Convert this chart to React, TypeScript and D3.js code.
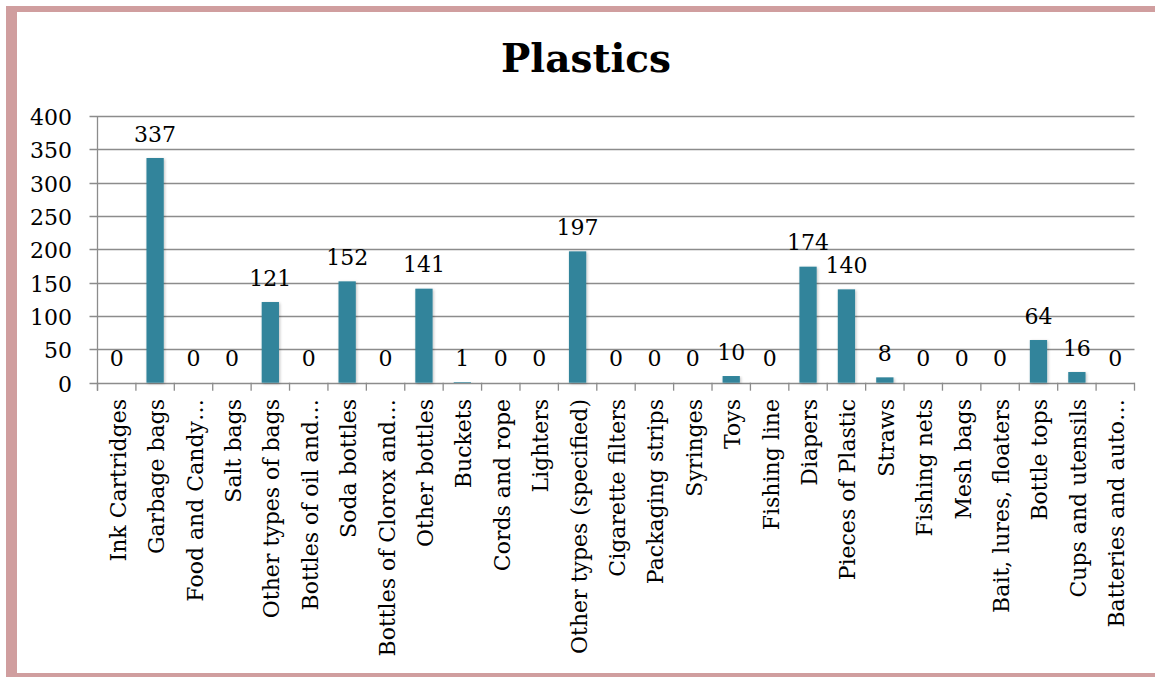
import React from "react";
import * as d3 from "d3";

const categories = [
  "Ink Cartridges",
  "Garbage bags",
  "Food and Candy…",
  "Salt bags",
  "Other types of bags",
  "Bottles of oil and…",
  "Soda bottles",
  "Bottles of Clorox and…",
  "Other bottles",
  "Buckets",
  "Cords and rope",
  "Lighters",
  "Other types (specified)",
  "Cigarette filters",
  "Packaging strips",
  "Syringes",
  "Toys",
  "Fishing line",
  "Diapers",
  "Pieces of Plastic",
  "Straws",
  "Fishing nets",
  "Mesh bags",
  "Bait, lures, floaters",
  "Bottle tops",
  "Cups and utensils",
  "Batteries and auto…",
];

const values = [
  0, 337, 0, 0, 121, 0, 152, 0, 141, 1, 0, 0, 197, 0, 0, 0, 10, 0, 174, 140, 8,
  0, 0, 0, 64, 16, 0,
];

const yTicks = [0, 50, 100, 150, 200, 250, 300, 350, 400];

const title = "Plastics";

const W = 1155;
const H = 677;
const FONT = "'DejaVu Serif', serif";
const BAR = "#31849b";
const GRID = "#8c8c8c";
const BORDER = "#d09e9f";

export default function App() {
  const left = 97.5;
  const right = 1134.5;
  const top = 116;
  const bottom = 382.7;

  const x = d3
    .scaleBand<string>()
    .domain(categories)
    .range([left, right])
    .paddingInner(0)
    .paddingOuter(0);
  const y = d3.scaleLinear().domain([0, 400]).range([bottom, top]);
  const bw = x.bandwidth() * 0.45;

  return (
    <svg
      width={W}
      height={H}
      style={{ position: "absolute", left: 0, top: 0, background: "#fff" }}
      fontFamily={FONT}
    >
      <defs>
        <filter id="shadow" x="-50%" y="-10%" width="200%" height="120%">
          <feGaussianBlur in="SourceAlpha" stdDeviation="1.5" />
          <feOffset dx="1" dy="1" result="b" />
          <feComponentTransfer>
            <feFuncA type="linear" slope="0.25" />
          </feComponentTransfer>
          <feMerge>
            <feMergeNode />
            <feMergeNode in="SourceGraphic" />
          </feMerge>
        </filter>
      </defs>
      <rect x={0} y={0} width={W} height={H} fill="#fff" />
      {/* border */}
      <rect x={6} y={6} width={W - 6} height={6} fill={BORDER} />
      <rect x={6} y={6} width={11} height={H - 6} fill={BORDER} />
      <rect x={6} y={673} width={W - 6} height={4} fill={BORDER} />

      <text
        x={586}
        y={72}
        textAnchor="middle"
        fontSize={39}
        fontWeight="bold"
        fill="#000"
      >
        {title}
      </text>

      {/* gridlines and y ticks */}
      {yTicks.map((t) => (
        <g key={t}>
          <line
            x1={89.5}
            x2={right}
            y1={Math.round(y(t)) + 0.5}
            y2={Math.round(y(t)) + 0.5}
            stroke={GRID}
            strokeWidth={1.3}
          />
          <text
            x={72}
            y={y(t) + 9}
            textAnchor="end"
            fontSize={22}
            fill="#000"
          >
            {t}
          </text>
        </g>
      ))}
      <line
        x1={left}
        x2={left}
        y1={top}
        y2={bottom + 8}
        stroke={GRID}
        strokeWidth={1.3}
      />
      {/* x ticks */}
      {d3.range(categories.length + 1).map((i) => {
        const xx = left + i * x.step();
        return (
          <line
            key={i}
            x1={xx}
            x2={xx}
            y1={bottom}
            y2={bottom + 8}
            stroke={GRID}
            strokeWidth={1.3}
          />
        );
      })}

      {/* bars */}
      {categories.map((c, i) => {
        const cx = x(c)! + x.bandwidth() / 2;
        const v = values[i];
        return (
          <g key={c}>
            {v > 0 && (
              <rect
                x={cx - bw / 2}
                y={y(v)}
                width={bw}
                height={bottom - y(v)}
                fill={BAR}
                filter="url(#shadow)"
              />
            )}
            <text
              x={cx}
              y={y(v) - 16.5}
              textAnchor="middle"
              fontSize={22}
              fill="#000"
            >
              {v}
            </text>
            <text
              transform={`translate(${cx + 9},${399}) rotate(-90)`}
              textAnchor="end"
              fontSize={22}
              fill="#000"
            >
              {c}
            </text>
          </g>
        );
      })}
    </svg>
  );
}
